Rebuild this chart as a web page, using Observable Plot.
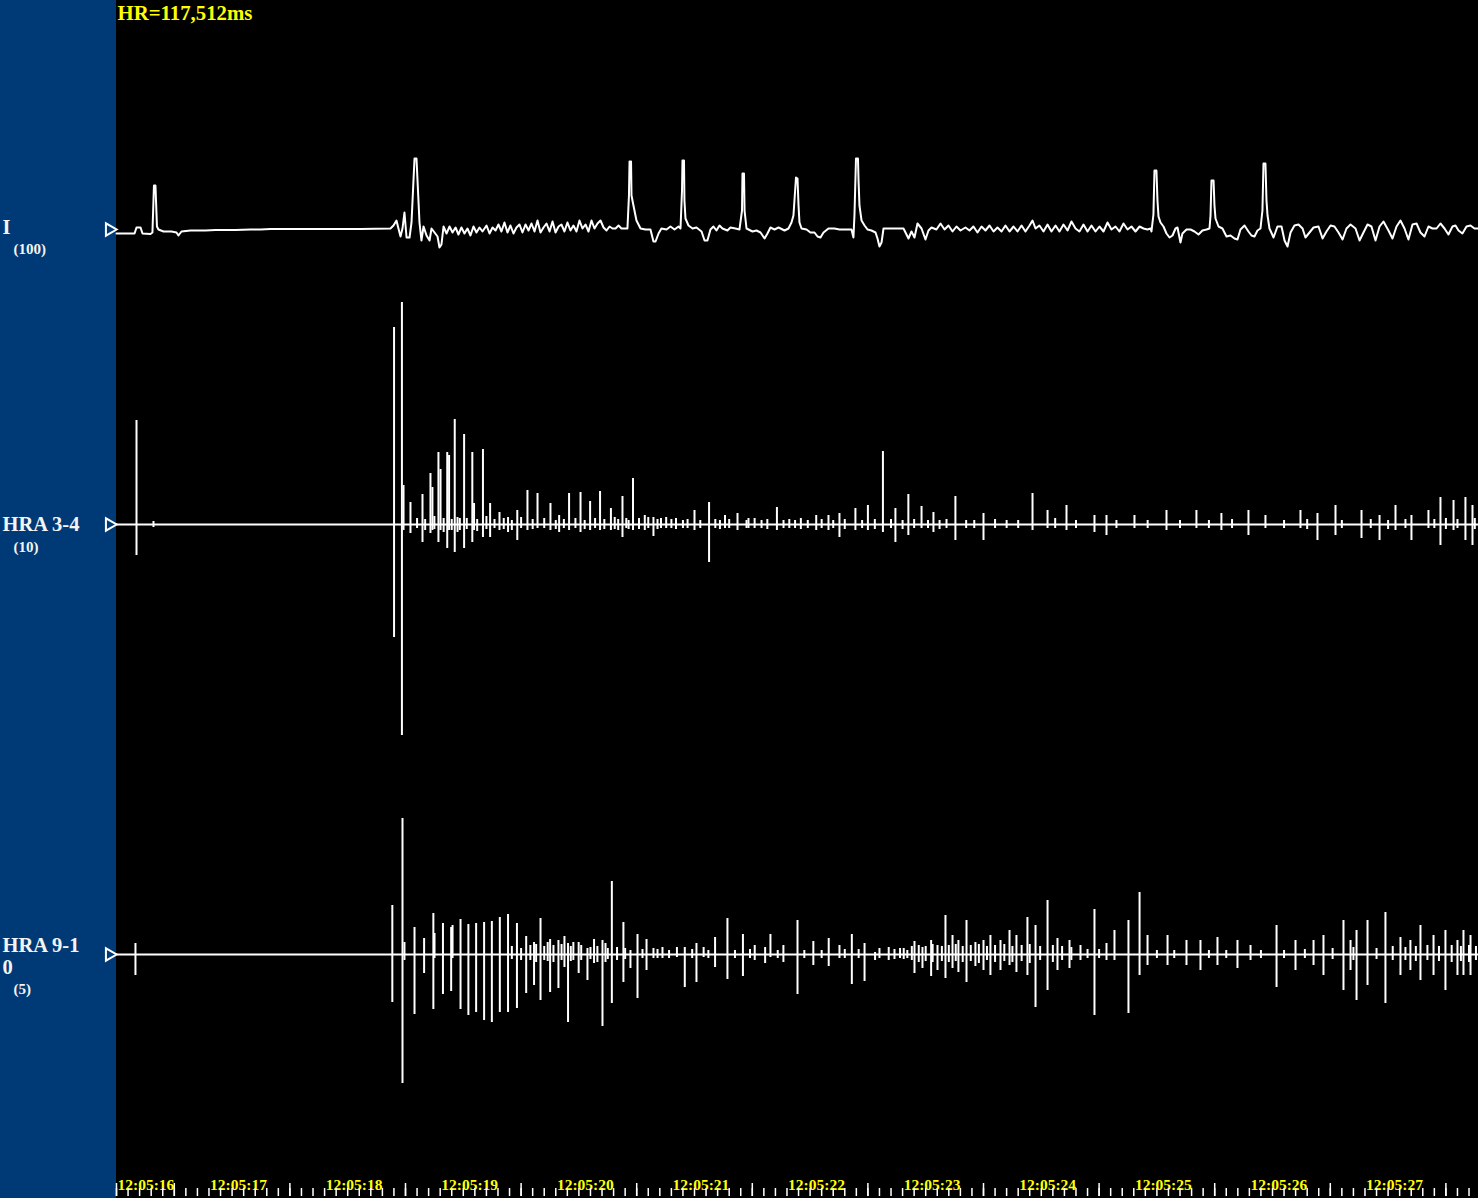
<!DOCTYPE html>
<html><head><meta charset="utf-8">
<script src="https://cdn.jsdelivr.net/npm/d3@7"></script>
<script src="https://cdn.jsdelivr.net/npm/@observablehq/plot@0.6"></script>
<style>
html,body{margin:0;padding:0;background:#000;overflow:hidden;}
#wrap{position:relative;width:1478px;height:1198px;background:#000;}
#panel{position:absolute;left:0;top:0;width:116px;height:1198px;background:#003a76;}
#chart{position:absolute;left:0;top:0;}
</style></head><body>
<div id="wrap"><div id="panel"></div><div id="chart"></div></div>
<script>
// ---------- data (time in seconds after 12:05:16) ----------
const hrText = "HR=117,512ms";
const tickSeconds = [0,1,2,3,4,5,6,7,8,9,10,11];
const tickLabels = ["12:05:16","12:05:17","12:05:18","12:05:19","12:05:20","12:05:21","12:05:22","12:05:23","12:05:24","12:05:25","12:05:26","12:05:27"];
const channelNames = [["I"],["HRA 3-4"],["HRA 9-1","0"]];
const channelGains = ["(100)","(10)","(5)"];

// Surface lead I : [time s, amplitude]
const leadI = [[0.000,-4],[0.156,-4],[0.173,2],[0.208,2],[0.225,-4],[0.294,-4.5],[0.311,-3],[0.324,44],[0.337,44],[0.350,3],[0.363,0],[0.407,-2],[0.476,-2],[0.519,-3],[0.536,-6],[0.562,-2],[0.640,-1],[0.770,-1],[0.856,-0.5],[1.029,-0.5],[1.159,0],[1.246,0],[1.332,0.5],[1.592,0.5],[1.851,0.5],[2.111,0.5],[2.370,1],[2.396,4],[2.422,9],[2.439,1],[2.457,-7],[2.474,1],[2.491,17],[2.509,-8],[2.535,-8],[2.552,7],[2.569,49],[2.578,71],[2.595,71],[2.604,49],[2.621,7],[2.638,-11],[2.656,3],[2.682,-6],[2.708,-11],[2.725,1],[2.751,-3],[2.777,-7],[2.794,-18],[2.811,-15],[2.829,3],
[2.855,-4],[2.881,3],[2.907,-3],[2.933,2],[2.958,-5],[2.984,2],[3.010,-4],[3.036,1],[3.062,-6],[3.088,3],[3.114,-3],[3.140,2],[3.166,-2],[3.201,4],[3.227,-4],[3.253,2],[3.279,-1],[3.304,5],[3.330,-2],[3.356,7],[3.382,-3],[3.408,4],[3.434,-4],[3.460,2],[3.486,5],[3.512,-3],[3.538,5],[3.564,-1],[3.590,6],[3.616,-2],[3.642,9],[3.668,-3],[3.694,2],[3.720,6],[3.746,-2],[3.772,8],[3.798,-3],[3.824,3],[3.849,5],[3.875,-2],[3.901,7],[3.927,-1],[3.953,4],[3.979,-2],[4.005,9],[4.031,1],[4.057,5],[4.083,-2],[4.109,9],[4.135,1],[4.161,6],[4.187,9],[4.213,2],[4.239,-1],[4.265,3],[4.291,1],[4.317,1],[4.343,4],[4.368,1],[4.394,1],[4.420,1],
[4.433,34],[4.438,68],[4.451,68],[4.455,34],[4.472,24],[4.498,9],[4.533,1],[4.576,0],[4.619,0],[4.645,-12],[4.663,-12],[4.689,-4],[4.714,1],[4.758,0],[4.792,3],[4.827,0],[4.862,3],[4.879,1],[4.892,39],[4.896,69],[4.909,69],[4.913,29],[4.922,11],[4.948,4],[4.983,1],[5.017,2],[5.061,-2],[5.087,-11],[5.112,-11],[5.138,0],[5.164,3],[5.190,-1],[5.216,4],[5.242,1],[5.285,-1],[5.311,2],[5.355,1],[5.389,0],[5.411,19],[5.415,56],[5.428,56],[5.433,19],[5.450,1],[5.502,-2],[5.536,-1],[5.571,-3],[5.606,-9],[5.631,-4],[5.657,2],[5.692,0],[5.727,2],[5.779,-1],[5.813,1],[5.839,7],[5.856,14],[5.878,52],[5.891,51],[5.900,24],[5.908,7],[5.926,1],[5.969,0],[6.003,-3],[6.038,-3],[6.064,-7],[6.090,-8],[6.116,-3],[6.159,1],[6.211,1],[6.254,0],[6.298,0],[6.332,0],[6.358,0],[6.375,-8],[6.384,15],[6.397,71],[6.414,71],[6.419,49],[6.427,24],[6.445,9],[6.471,4],[6.497,0],[6.531,-1],[6.566,-3],[6.583,-9],[6.600,-17],[6.618,-13],[6.635,1],
[6.678,1],[6.721,1],[6.765,1],[6.808,1],[6.851,-9],[6.877,-2],[6.903,-8],[6.929,6],[6.964,1],[6.998,-10],[7.024,-1],[7.050,2],[7.093,0],[7.128,6],[7.163,0],[7.197,4],[7.232,-2],[7.266,3],[7.301,-1],[7.344,2],[7.379,-1],[7.413,3],[7.448,-3],[7.483,3],[7.517,-1],[7.552,4],[7.587,-2],[7.621,2],[7.656,-2],[7.690,4],[7.725,-2],[7.760,3],[7.794,-2],[7.829,4],[7.863,-2],[7.898,4],[7.924,9],[7.950,1],[7.984,4],[8.019,-2],[8.054,5],[8.088,-2],[8.123,4],[8.157,-2],[8.192,5],[8.227,-1],[8.261,8],[8.296,1],[8.330,-2],[8.365,5],[8.400,-2],[8.434,4],[8.469,-2],[8.503,3],[8.538,-2],[8.573,7],[8.607,0],[8.642,3],[8.676,-2],[8.711,6],[8.746,0],[8.780,3],[8.815,-2],[8.850,3],[8.884,1],[8.919,0],[8.945,1],[8.953,-2],
[8.970,15],[8.979,59],[8.996,59],[9.005,29],[9.014,13],[9.031,7],[9.057,3],[9.083,-4],[9.109,-8],[9.135,-6],[9.161,1],[9.178,2],[9.204,-13],[9.221,-4],[9.256,0],[9.291,0],[9.325,-2],[9.360,-5],[9.394,-1],[9.429,0],[9.455,1],[9.464,14],[9.472,49],[9.490,49],[9.498,24],[9.507,11],[9.533,3],[9.567,1],[9.602,-7],[9.637,-6],[9.671,-9],[9.697,-10],[9.723,0],[9.758,4],[9.792,-2],[9.818,-6],[9.844,-7],[9.870,-1],[9.896,1],[9.913,19],[9.922,66],[9.939,66],[9.948,29],[9.957,14],[9.974,1],[10.009,-8],[10.043,3],[10.078,3],[10.104,-11],[10.130,-17],[10.156,-3],[10.190,4],[10.225,5],[10.260,1],[10.285,-8],[10.320,-3],[10.355,2],[10.398,3],[10.433,-9],[10.467,-2],[10.502,4],[10.536,3],[10.571,-3],[10.606,-10],[10.640,1],[10.675,5],[10.718,1],[10.753,-11],[10.787,-3],[10.822,5],[10.856,3],[10.891,-11],[10.926,3],[10.960,8],[11.003,-1],[11.038,-9],[11.073,3],[11.107,9],[11.142,1],[11.176,-10],[11.211,5],[11.246,6],[11.280,-3],[11.315,-7],[11.349,3],[11.384,1],[11.419,1],[11.453,6],[11.488,1],[11.522,-5],[11.557,3],[11.583,4],[11.609,-1],[11.643,-4],[11.678,3],[11.713,4],[11.747,1],[11.782,1]];

// Intracardiac HRA 3-4 deflections : [time s, up, down]
const hra34 = [[0.173,104,31],[0.320,3,3],[2.401,197,113],[2.469,222,211],[2.483,39,6],[2.543,22,9],[2.647,30,18],[2.716,51,9],[2.733,37,6],[2.785,72,18],[2.803,55,6],[2.861,72,24],[2.877,69,6],[2.926,105,28],[2.970,6,6],[3.007,90,24],[3.078,72,18],[3.093,21,6],[3.170,75,13],[3.232,21,13],[3.313,12,6],[3.387,7,8],[3.467,14,16],[3.555,34,6],[3.642,31,4],[3.754,21,6],[3.829,9,8],[3.915,31,6],[4.014,32,8],[4.097,23,6],[4.183,33,6],[4.277,16,6],[4.377,28,13],[4.468,46,6],[4.570,9,6],[4.645,7,12],[4.755,7,4],[5.000,14,6],[5.126,22,38],[5.264,9,4],[5.372,11,6],[5.467,6,4],[5.713,17,6],[6.053,9,6],[6.159,9,6],[6.254,11,13],[6.392,16,6],[6.500,19,6],[6.630,73,8],[6.738,16,18],[6.850,30,11],[6.964,18,4],[7.067,12,8],[7.257,28,16],[7.500,11,16],[7.924,31,6],[8.054,14,4],[8.218,19,6],[8.460,9,8],[8.564,9,11],[8.806,9,4],[9.083,14,6],[9.342,14,4],[9.558,11,6],[9.792,14,11],[9.939,9,4],[10.242,14,4],[10.389,11,16],[10.545,19,11],[10.770,14,14],[10.926,9,16],[11.064,19,6],[11.202,9,16],[11.349,14,4],[11.453,27,21],[11.566,24,6],[11.669,27,16],[11.730,19,21]];
const hra34Small = [[2.60,6,4],[2.67,5,6],[2.75,8,5],[2.83,6,8],[2.90,5,6],[2.95,7,8],[3.03,6,5],[3.12,5,7],[3.20,8,5],[3.27,5,4],[3.35,6,5],[3.42,4,6],[3.50,7,4],[3.60,5,5],[3.70,6,4],[3.80,4,5],[3.87,5,4],[3.97,6,4],[4.05,4,5],[4.14,6,4],[4.22,5,5],[4.31,7,5],[4.34,5,6],[4.41,6,4],[4.43,4,5],[4.52,6,5],[4.60,7,4],[4.68,5,5],[4.71,6,4],[4.80,5,4],[4.84,6,5],[4.90,4,4],[4.94,5,4],[5.05,4,4],[5.18,5,4],[5.22,4,5],[5.30,5,4],[5.45,4,4],[5.52,6,4],[5.58,4,4],[5.63,5,5],[5.77,4,4],[5.82,5,4],[5.87,4,4],[5.92,6,5],[5.98,4,4],[6.10,5,4],[6.20,4,4],[6.30,5,5],[6.45,4,4],[6.56,5,5],[6.70,5,4],[6.80,4,5],[6.90,5,4],[7.02,4,4],[7.12,4,5],[7.18,5,4],[7.35,4,4],[7.42,4,4],[7.60,5,4],[7.70,4,4],[7.80,4,4],[8.12,6,4],[8.30,4,4],[8.65,4,4],[8.92,4,4],[9.20,4,4],[9.45,4,4],[9.65,5,4],[10.10,4,4],[10.30,5,5],[10.60,4,4],[10.85,5,4],[11.00,4,5],[11.15,5,4],[11.40,5,4],[11.50,6,5],[11.60,5,4],[11.75,6,5]];

// Intracardiac HRA 9-10 deflections : [time s, up, down]
const hra910 = [[0.164,11,21],[2.386,49,48],[2.474,136,129],[2.491,12,6],[2.578,27,60],[2.661,16,19],[2.741,41,55],[2.751,21,4],[2.824,31,40],[2.895,27,37],[2.907,29,4],[2.976,35,55],[3.044,30,61],[3.111,31,58],[3.180,32,66],[3.247,33,68],[3.316,37,58],[3.387,40,58],[3.464,31,54],[3.544,18,39],[3.612,12,31],[3.668,36,46],[3.751,15,38],[3.823,14,34],[3.875,18,13],[3.906,11,68],[3.952,12,6],[3.998,12,19],[4.074,6,26],[4.131,15,9],[4.204,14,72],[4.230,11,8],[4.285,73,49],[4.385,32,28],[4.446,4,14],[4.507,20,44],[4.585,15,16],[4.645,6,4],[4.723,7,4],[4.848,7,3],[4.916,7,33],[5.017,11,28],[5.079,7,3],[5.178,17,13],[5.285,36,25],[5.419,20,22],[5.521,9,6],[5.611,7,9],[5.657,20,3],[5.769,9,8],[5.891,34,40],[6.028,13,11],[6.161,16,12],[6.254,9,4],[6.361,20,30],[6.471,11,27],[6.562,2,6],[6.778,6,4],[6.841,4,4],[6.903,13,19],[6.972,7,14],[7.047,14,22],[7.102,9,16],[7.171,39,24],[7.232,19,14],[7.283,14,18],[7.353,34,28],[7.430,12,12],[7.500,14,16],[7.560,19,21],[7.647,14,16],[7.725,24,11],[7.785,19,18],[7.880,37,21],[7.950,29,53],[8.054,54,36],[8.140,16,16],[8.244,14,14],[8.339,9,6],[8.460,45,61],[8.564,11,6],[8.633,24,6],[8.754,34,59],[8.850,62,21],[8.919,19,11],[9.092,19,11],[9.256,14,11],[9.377,14,16],[9.524,17,11],[9.697,14,14],[9.810,9,6],[10.035,29,33],[10.199,14,16],[10.355,14,11],[10.441,19,21],[10.614,34,36],[10.675,14,16],[10.727,24,46],[10.822,34,31],[10.977,42,49],[11.107,17,21],[11.193,14,16],[11.280,29,26],[11.393,19,21],[11.496,24,36],[11.600,14,21],[11.652,24,21],[11.713,19,21]];
const hra910Small = [[3.42,8,5],[3.50,6,6],[3.58,9,6],[3.63,10,8],[3.70,8,6],[3.73,12,7],[3.78,9,8],[3.85,10,6],[3.93,8,7],[4.02,9,6],[4.10,7,5],[4.16,8,8],[4.25,6,5],[4.33,7,6],[4.40,6,5],[4.55,5,4],[4.68,5,4],[4.78,4,4],[4.98,5,4],[5.12,4,4],[5.35,4,4],[5.48,5,4],[5.72,4,4],[5.95,4,4],[6.10,4,4],[6.30,5,4],[6.42,5,4],[6.60,6,4],[6.68,7,6],[6.73,5,5],[6.81,6,5],[6.88,8,6],[6.94,9,8],[7.00,8,7],[7.06,10,8],[7.14,8,7],[7.20,9,8],[7.26,10,7],[7.32,8,8],[7.39,9,7],[7.46,10,9],[7.53,8,6],[7.60,9,8],[7.68,10,7],[7.75,8,8],[7.83,9,7],[7.90,10,9],[7.99,8,6],[8.10,9,8],[8.18,8,6],[8.26,7,6],[8.40,5,4],[8.50,5,4],[9.00,4,4],[9.15,4,4],[9.45,4,4],[9.60,4,4],[9.90,4,4],[10.10,4,4],[10.28,5,4],[10.52,6,5],[10.70,7,6],[10.90,6,5],[11.04,8,6],[11.15,7,6],[11.24,8,7],[11.34,9,6],[11.44,8,7],[11.55,9,8],[11.63,8,7],[11.70,9,8],[11.76,8,6]];

// ---------- layout ----------
const W = 1478, H = 1198, LEFT = 116;
const PX_PER_SEC = 115.6;
const SPAN = (W - LEFT) / PX_PER_SEC;
const BASE = [229, 524, 954];          // trace baselines (px from top)
const AXIS_BOTTOM = 1196, MINOR = 8, MAJOR = 13;
const minorTicks = d3.range(0, SPAN, 0.1);
const majorTicks = [0].concat(d3.range(0.5, SPAN, 1));

const nameRows = [
  {t: channelNames[0][0], y: BASE[0] + 4},
  {t: channelGains[0], y: BASE[0] + 24, s: 15},
  {t: channelNames[1][0], y: BASE[1] + 6},
  {t: channelGains[1], y: BASE[1] + 27, s: 15},
  {t: channelNames[2][0], y: BASE[2] - 3},
  {t: channelNames[2][1], y: BASE[2] + 19},
  {t: channelGains[2], y: BASE[2] + 39, s: 15}
];

const spikes = (data, base) => Plot.ruleX(data, {
  x: d => d[0], y1: d => base - d[1], y2: d => base + d[2],
  stroke: "white", strokeWidth: 2
});

const chart = Plot.plot({
  width: W, height: H,
  marginLeft: LEFT, marginRight: 0, marginTop: 0, marginBottom: 0,
  x: {domain: [0, SPAN], axis: null},
  y: {domain: [0, H], range: [0, H], axis: null},
  style: {background: "transparent", fontFamily: "'Liberation Serif','Times New Roman',serif", overflow: "visible"},
  marks: [
    // baselines of intracardiac channels
    Plot.ruleY([BASE[1], BASE[2]], {y: d => d, stroke: "white", strokeWidth: 2}),
    // lead I
    Plot.line(leadI, {x: d => d[0], y: d => BASE[0] - d[1], stroke: "white", strokeWidth: 2}),
    // HRA channels
    spikes(hra34, BASE[1]),
    spikes(hra34Small, BASE[1]),
    spikes(hra910, BASE[2]),
    spikes(hra910Small, BASE[2]),
    // channel markers
    Plot.dot(BASE, {y: d => d, frameAnchor: "left", dx: -7, symbol: "triangle", rotate: 90, r: 4.6, stroke: "white", strokeWidth: 2, fill: "none"}),
    // channel names
    Plot.text(nameRows.filter(d => !d.s), {y: "y", text: "t", frameAnchor: "left", dx: 2 - LEFT, textAnchor: "start", lineAnchor: "bottom", fill: "#f4f4f4", fontWeight: "bold", fontSize: 20.5}),
    Plot.text(nameRows.filter(d => d.s), {y: "y", text: "t", frameAnchor: "left", dx: 13 - LEFT, textAnchor: "start", lineAnchor: "bottom", fill: "#f4f4f4", fontWeight: "bold", fontSize: 15}),
    // HR label
    Plot.text([hrText], {frameAnchor: "top-left", dx: 1, dy: 5, textAnchor: "start", lineAnchor: "top", fill: "#ffff00", fontWeight: "bold", fontSize: 20.8}),
    // time labels
    Plot.text(tickSeconds.slice(0, 1), {x: d => d, y: AXIS_BOTTOM - 7, text: (d, i) => tickLabels[0], textAnchor: "start", lineAnchor: "bottom", dx: 1, fill: "#ffff00", fontWeight: "bold", fontSize: 15.5}),
    Plot.text(tickSeconds.slice(1), {x: d => d, y: AXIS_BOTTOM - 7, text: (d, i) => tickLabels[i + 1], textAnchor: "start", lineAnchor: "bottom", dx: -22, fill: "#ffff00", fontWeight: "bold", fontSize: 15.5}),
    // time ticks
    Plot.ruleX(minorTicks, {x: d => d, y1: AXIS_BOTTOM - MINOR, y2: AXIS_BOTTOM, stroke: "white", strokeWidth: 1.5}),
    Plot.ruleX(majorTicks, {x: d => d, y1: AXIS_BOTTOM - MAJOR, y2: AXIS_BOTTOM, stroke: "white", strokeWidth: 1.5})
  ]
});
document.getElementById("chart").appendChild(chart);
</script>
</body></html>
